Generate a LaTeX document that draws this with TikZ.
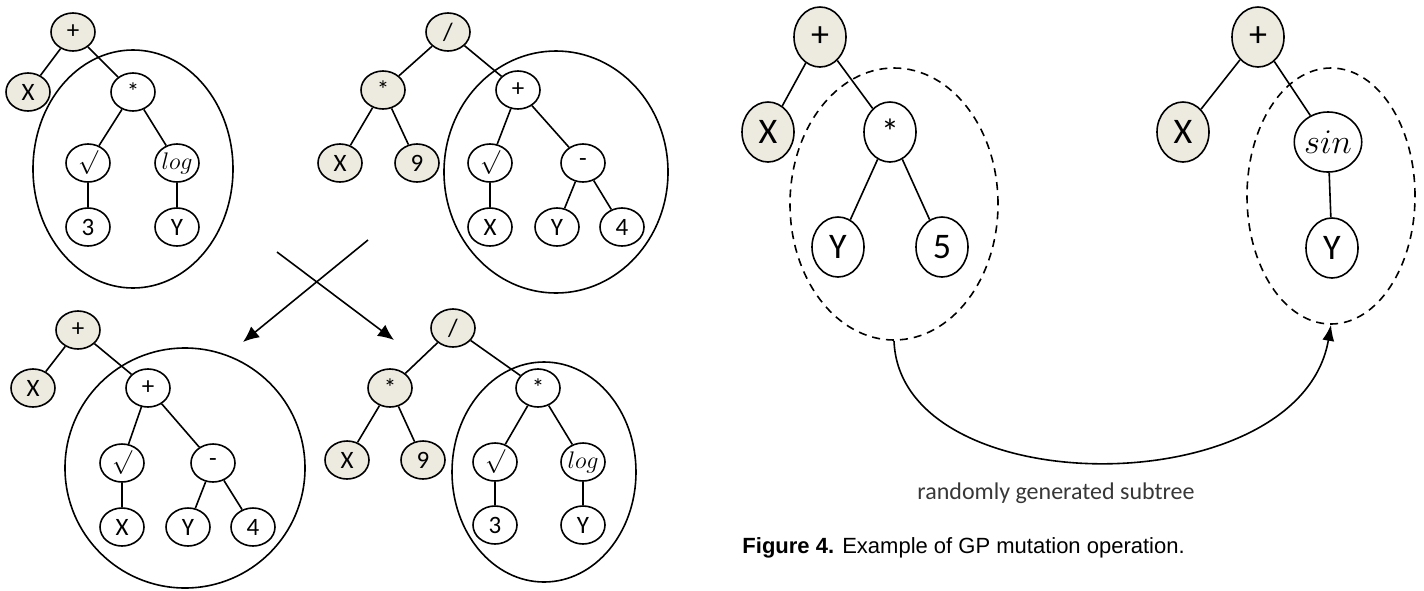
\documentclass[tikz,border=0pt]{standalone}
\usepackage{fontspec}
\setmainfont{Carlito}
\newfontfamily\capfont{Liberation Sans}
\usetikzlibrary{shapes.geometric,arrows.meta}
\definecolor{nodeshade}{RGB}{237,235,224}
\definecolor{labelgray}{RGB}{55,55,55}

\begin{document}
\begin{tikzpicture}[x=0.5pt,y=-0.5pt,line width=0.8pt,
    op/.style={draw,ellipse,inner sep=0pt,minimum width=22pt,minimum height=19pt,
      font=\fontsize{12.5}{12.5}\selectfont},
    opg/.style={op,fill=nodeshade},
    bigop/.style={draw,ellipse,inner sep=0pt,minimum width=26pt,minimum height=30pt,
      font=\fontsize{18}{18}\selectfont},
    bigopg/.style={bigop,fill=nodeshade},
    subtree/.style={draw,ellipse,inner sep=0pt},
    arr/.style={-{Latex[length=8pt,width=7pt]}}]

    \useasboundingbox (0,0) rectangle (1424,590);

    \node[subtree,minimum width=100pt,minimum height=119pt] (subA) at (133,169) {};
    \node[opg] (aRoot) at (73,32) {+};
    \node[opg] (aX) at (28,92) {X};
    \node[op] (aMul) at (133,92) {*};
    \node[op] (aSqrt) at (88,163) {$\surd$};
    \node[op] (aLog) at (177,163) {$log$};
    \node[op] (aThree) at (88,227) {3};
    \node[op] (aY) at (177,227) {Y};
    \draw (aRoot)--(aX) (aRoot)--(aMul) (aMul)--(aSqrt) (aMul)--(aLog)
      (aSqrt)--(aThree) (aLog)--(aY);

    \node[subtree,minimum width=112pt,minimum height=121pt] (subB) at (556,172) {};
    \node[opg] (bRoot) at (448,32) {/};
    \node[opg] (bMul) at (383,90) {*};
    \node[op] (bAdd) at (518,90) {+};
    \node[opg] (bX) at (340,163) {X};
    \node[opg] (bNine) at (417,163) {9};
    \node[op] (bSqrt) at (490,163) {$\surd$};
    \node[op] (bSub) at (583,163) {-};
    \node[op] (bX2) at (490,227) {X};
    \node[op] (bY) at (557,227) {Y};
    \node[op] (bFour) at (622,227) {4};
    \draw (bRoot)--(bMul) (bRoot)--(bAdd) (bMul)--(bX) (bMul)--(bNine)
      (bAdd)--(bSqrt) (bAdd)--(bSub) (bSqrt)--(bX2) (bSub)--(bY) (bSub)--(bFour);

    \coordinate (crossA) at (277,252);
    \coordinate (crossB) at (368,240);
    \coordinate (tipA) at (394,340);
    \coordinate (tipB) at (243,342);
    \draw[arr] (crossA)--(tipA);
    \draw[arr] (crossB)--(tipB);

    \node[subtree,minimum width=120pt,minimum height=120pt] (subC) at (185,468) {};
    \node[opg] (cRoot) at (78,330) {+};
    \node[opg] (cX) at (33,388) {X};
    \node[op] (cAdd) at (148,388) {+};
    \node[op] (cSqrt) at (122,463) {$\surd$};
    \node[op] (cSub) at (213,463) {-};
    \node[op] (cX2) at (122,527) {X};
    \node[op] (cY) at (188,527) {Y};
    \node[op] (cFour) at (253,527) {4};
    \draw (cRoot)--(cX) (cRoot)--(cAdd) (cAdd)--(cSqrt) (cAdd)--(cSub)
      (cSqrt)--(cX2) (cSub)--(cY) (cSub)--(cFour);

    \node[subtree,minimum width=92pt,minimum height=110pt] (subD) at (544,472) {};
    \node[opg] (dRoot) at (453,328) {/};
    \node[opg] (dMul) at (390,388) {*};
    \node[op] (dMul2) at (538,388) {*};
    \node[opg] (dX) at (347,460) {X};
    \node[opg] (dNine) at (423,460) {9};
    \node[op] (dSqrt) at (495,462) {$\surd$};
    \node[op] (dLog) at (583,462) {$log$};
    \node[op] (dThree) at (495,525) {3};
    \node[op] (dY) at (583,525) {Y};
    \draw (dRoot)--(dMul) (dRoot)--(dMul2) (dMul)--(dX) (dMul)--(dNine)
      (dMul2)--(dSqrt) (dMul2)--(dLog) (dSqrt)--(dThree) (dLog)--(dY);

    \node[subtree,dashed,dash pattern=on 4pt off 3pt,minimum width=104pt,minimum height=136pt] (subM) at (894,204) {};
    \node[bigopg] (mRoot) at (820,37) {+};
    \node[bigopg] (mX) at (768,132) {X};
    \node[bigop] (mMul) at (890,132) {*};
    \node[bigop] (mY) at (838,247) {Y};
    \node[bigop] (mFive) at (942,247) {5};
    \draw (mRoot)--(mX) (mRoot)--(mMul) (mMul)--(mY) (mMul)--(mFive);

    \node[subtree,dashed,dash pattern=on 4pt off 3pt,minimum width=84pt,minimum height=128pt] (subN) at (1331,196) {};
    \node[bigopg] (nRoot) at (1258,37) {+};
    \node[bigopg] (nX) at (1183,132) {X};
    \node[bigop] (nSin) at (1328,142) {$sin$};
    \node[bigop] (nY) at (1332,248) {Y};
    \draw (nRoot)--(nX) (nRoot)--(nSin) (nSin)--(nY);

    \draw[-{Latex[length=8pt,width=6pt]}] (subM.south) .. controls (900,505) and (1300,505) .. (subN.south);

    \node[text=labelgray,font=\fontsize{12}{12}\selectfont] (mutLabel) at (1056,493) {randomly generated subtree};
    \node[anchor=west,font=\capfont\fontsize{11}{12}\selectfont] (caption) at (735,548)
      {\textbf{Figure 4.} Example of GP mutation operation.};
  \end{tikzpicture}
\end{document}
